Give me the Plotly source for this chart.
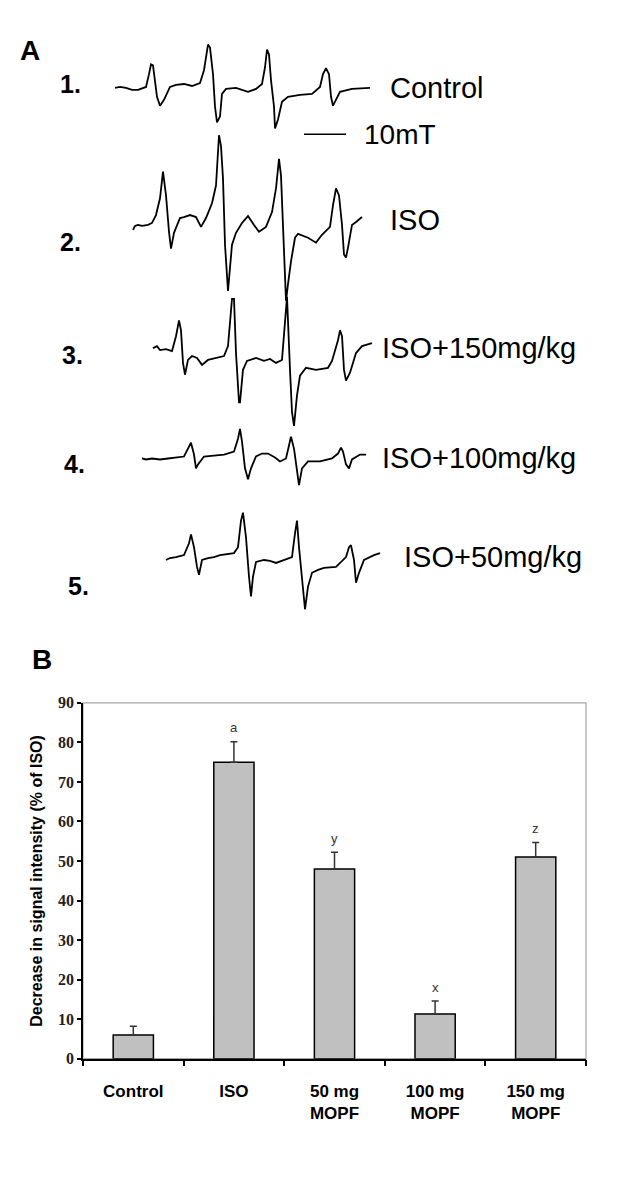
import plotly.graph_objects as go

# ---------------- Panel A: ESR spectra (field position vs. signal) ----------------
spec_names = ["Control", "ISO", "ISO+150mg/kg", "ISO+100mg/kg", "ISO+50mg/kg"]
spec_numbers = ["1.", "2.", "3.", "4.", "5."]

field_1 = [115, 120, 126, 132, 138, 146, 149, 151, 153, 155, 157, 160, 164, 170, 176, 184, 192, 200, 204, 208,
           210, 213, 215, 217, 220, 222, 226, 236, 248, 256, 262, 265, 267, 269, 271, 274, 275, 278, 282, 288,
           300, 312, 320, 323, 326, 329, 331, 333, 336, 340, 352, 370]
signal_1 = [0, 1, 0, -2, -2, 1, 14, 24, 23, 9, -9, -18, -12, 1, 3, 4, 2, 5, 18, 44,
            41, 14, -19, -35, -29, -6, -1, 0, -4, -1, 4, 21, 39, 34, 8, -19, -41, -32, -14, -9,
            -7, -6, 1, 14, 20, 14, -9, -18, -12, -4, -1, 0]

field_2 = [133, 135, 138, 142, 148, 152, 156, 160, 163, 166, 169, 171, 174, 180, 184, 190, 196, 201, 206, 212,
           216, 218, 219, 221, 223, 225, 228, 232, 236, 242, 248, 254, 259, 266, 272, 276, 279, 281, 283, 285,
           286, 288, 291, 295, 298, 308, 316, 322, 330, 333, 336, 339, 342, 344, 346, 348, 352, 356, 362]
signal_2 = [-5, -1, 0, -1, 0, 2, 10, 27, 54, 30, -7, -24, -8, 7, 8, 10, 8, -2, 7, 22,
            40, 70, 91, 80, 47, -20, -67, -20, -8, 2, 9, 0, -7, -2, 13, 37, 67, 50, -3, -57,
            -77, -60, -37, -13, -9, -13, -18, -10, -2, 20, 37, 30, 0, -30, -33, -23, 0, 3, 8]

field_3 = [153, 157, 160, 166, 172, 176, 179, 181, 183, 185, 188, 192, 197, 202, 208, 216, 224, 228, 230, 232,
           234, 236, 239, 240, 243, 247, 256, 264, 270, 276, 282, 284, 286, 287, 290, 292, 294, 297, 300, 306,
           316, 328, 332, 338, 340, 342, 344, 346, 350, 356, 362, 372]
signal_3 = [2, 4, 0, 1, -1, 14, 30, 20, -13, -25, -10, -6, -8, -15, -10, -8, -6, 4, 27, 52,
            52, -3, -53, -53, -20, -11, -8, -11, -9, -13, -10, 14, 44, 54, -20, -63, -77, -46, -26, -18,
            -20, -18, -11, 10, 20, 14, -20, -31, -23, -3, 4, 7]

field_4 = [142, 146, 152, 160, 168, 176, 184, 189, 191, 194, 196, 198, 204, 214, 224, 234, 238, 240, 242, 245,
           248, 251, 256, 262, 268, 275, 280, 286, 289, 291, 294, 297, 299, 302, 308, 320, 332, 338, 341, 343,
           346, 349, 352, 360, 366]
signal_4 = [0, -1, 0, -1, 0, 1, 2, 12, 16, 4, -10, -6, 2, 3, 4, 7, 20, 30, 17, -10,
            -21, -10, 2, 5, 5, 1, -3, 0, 14, 22, 10, -16, -27, -10, -3, -3, 0, 5, 11, 7,
            -6, -10, -1, 4, 4]

field_5 = [166, 170, 176, 184, 189, 191, 194, 197, 199, 202, 208, 214, 220, 228, 234, 238, 241, 243, 246, 249,
           251, 253, 256, 264, 270, 276, 284, 292, 295, 297, 299, 302, 305, 308, 312, 318, 324, 336, 346, 349,
           351, 354, 356, 359, 364, 374, 380]
signal_5 = [-3, -1, 0, 2, 14, 23, 10, -10, -18, -3, -1, 0, 2, 3, 4, 10, 37, 45, 20, -20,
            -40, -20, -5, -3, -4, -6, -3, 0, 24, 37, 10, -23, -53, -30, -16, -13, -11, -10, 0, 10,
            12, -3, -26, -16, -3, 2, 4]

fields = [field_1, field_2, field_3, field_4, field_5]
signals = [signal_1, signal_2, signal_3, signal_4, signal_5]

# ---------------- Panel B: bar chart ----------------
categories = ["Control", "ISO", "50 mg<br>MOPF", "100 mg<br>MOPF", "150 mg<br>MOPF"]
values = [6.0, 75.0, 48.0, 11.3, 51.0]
errors = [2.2, 5.2, 4.2, 3.3, 3.7]
letters = ["", "a", "y", "x", "z"]
y_ticks = [0, 10, 20, 30, 40, 50, 60, 70, 80, 90]

# ---------------- layout constants (page pixels) ----------------
PAGE_W, PAGE_H = 624, 1180
OFF = 8                               # default body margin of the html page
W, H = PAGE_W - OFF, PAGE_H - OFF     # figure size so that it fills the window exactly
A_BOTTOM = 648                        # page y where panel A drawing area ends
baselines = [81, 220, 347, 457, 557]
name_pos = [(388, 81), (388, 215), (380, 345), (380, 457), (402, 557)]
num_pos = [(58, 77), (58, 237), (60, 352), (62, 463), (66, 586)]
plot_left, plot_right, plot_top, plot_bottom = 83, 586, 705, 1066

SANS = "Liberation Sans, Arial, sans-serif"
SERIF = "Liberation Serif, Times New Roman, serif"


def px(xp):
    return (xp - OFF) / W


def py(yp):
    return 1 - (yp - OFF) / H


fig = go.Figure()

for f, s, b in zip(fields, signals, baselines):
    fig.add_trace(go.Scatter(
        x=f, y=[b - v for v in s], mode="lines",
        line=dict(color="black", width=1.8),
        xaxis="x2", yaxis="y2", showlegend=False, hoverinfo="skip"))

fig.add_trace(go.Bar(
    x=categories, y=values, width=0.4,
    marker=dict(color="#c0c0c0", line=dict(color="black", width=1.5)),
    error_y=dict(type="data", array=errors, arrayminus=[0] * len(errors), symmetric=False,
                 color="#333333", thickness=1.5, width=3.5),
    showlegend=False, hoverinfo="skip"))

annotations = []
annotations.append(dict(text="<b>A</b>", x=px(18), y=py(43), xref="paper", yref="paper",
                        xanchor="left", yanchor="middle", showarrow=False,
                        font=dict(family=SANS, size=28, color="black")))
annotations.append(dict(text="<b>B</b>", x=px(30), y=py(661), xref="paper", yref="paper",
                        xanchor="left", yanchor="middle", showarrow=False,
                        font=dict(family=SANS, size=28, color="black")))
for name, (nx, ny) in zip(spec_names, name_pos):
    annotations.append(dict(text=name, x=nx, y=ny, xref="x2", yref="y2", xanchor="left",
                            yanchor="middle", showarrow=False,
                            font=dict(family=SANS, size=29, color="black")))
for num, (nx, ny) in zip(spec_numbers, num_pos):
    annotations.append(dict(text="<b>" + num + "</b>", x=nx, y=ny, xref="x2", yref="y2",
                            xanchor="left", yanchor="middle", showarrow=False,
                            font=dict(family=SANS, size=25, color="black")))
annotations.append(dict(text="10mT", x=362, y=128, xref="x2", yref="y2", xanchor="left",
                        yanchor="middle", showarrow=False,
                        font=dict(family=SANS, size=28, color="black")))
for c, v, e, l in zip(categories, values, errors, letters):
    if l:
        annotations.append(dict(text=l, x=c, y=v + e + 3.5, xref="x", yref="y",
                                xanchor="center", yanchor="middle", showarrow=False,
                                font=dict(family=SANS, size=13, color="#333333")))
annotations.append(dict(text="<b>Decrease in signal intensity (% of ISO)</b>", textangle=-90,
                        x=px(37), y=py((plot_top + plot_bottom) / 2),
                        xref="paper", yref="paper", xanchor="center", yanchor="middle",
                        showarrow=False, font=dict(family=SANS, size=16, color="black")))

shapes = [
    dict(type="line", x0=304, x1=346, y0=128, y1=128, xref="x2", yref="y2",
         line=dict(color="black", width=1.6)),
    dict(type="rect", x0=0, x1=1, y0=0, y1=1, xref="x domain", yref="y domain",
         line=dict(color="#a6a6a6", width=1.2), layer="below"),
]

fig.update_layout(
    width=W, height=H, margin=dict(l=0, r=0, t=0, b=0),
    paper_bgcolor="white", plot_bgcolor="white",
    xaxis=dict(domain=[px(plot_left), px(plot_right)], anchor="y", type="category",
               range=[-0.5, len(categories) - 0.5], tickson="boundaries",
               ticks="outside", ticklen=6, tickwidth=1.5, tickcolor="black",
               showline=True, linecolor="black", linewidth=1.5, showgrid=False,
               ticklabelstandoff=16,
               tickfont=dict(family=SANS, size=17, color="black", weight="bold")),
    yaxis=dict(domain=[py(plot_bottom), py(plot_top)], anchor="x",
               range=[0, 90], tickvals=y_ticks, ticks="outside", ticklen=4, tickwidth=1.5,
               tickcolor="black", showline=True, linecolor="black", linewidth=1.5,
               showgrid=False, zeroline=False,
               tickfont=dict(family=SERIF, size=16, color="#222222", weight="bold")),
    xaxis2=dict(domain=[0, 1], anchor="y2", range=[OFF, PAGE_W], visible=False, showgrid=False),
    yaxis2=dict(domain=[py(A_BOTTOM), 1], anchor="x2", range=[A_BOTTOM, OFF], visible=False,
                showgrid=False),
    annotations=annotations, shapes=shapes,
)

fig.write_html("out.html")
